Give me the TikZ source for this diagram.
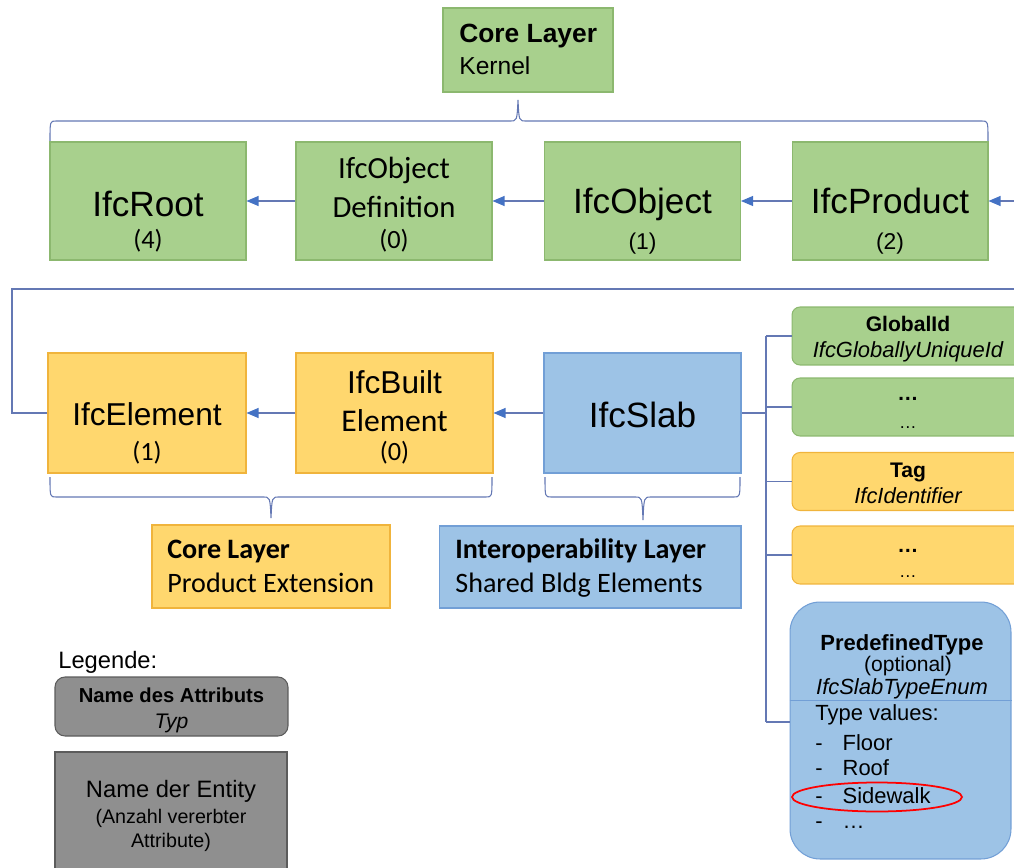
\documentclass[tikz,border=0pt]{standalone}
\usepackage{fontspec}
\setmainfont{Liberation Sans}
\newfontfamily\calfont{Carlito}
\usetikzlibrary{arrows.meta}

\definecolor{kerngreen}{HTML}{A8D08D}
\definecolor{kernline}{HTML}{8CB86F}
\definecolor{extorange}{HTML}{FFD76E}
\definecolor{extline}{HTML}{F0B43C}
\definecolor{sharedblue}{HTML}{9DC3E6}
\definecolor{sharedline}{HTML}{729FD6}
\definecolor{leggray}{HTML}{8F8F8F}
\definecolor{legline}{HTML}{5C5C5C}
\definecolor{linkcol}{HTML}{6478B4}
\definecolor{headblue}{HTML}{4472C4}

\begin{document}
\begin{tikzpicture}[
            x=0.02cm, y=-0.02cm,
            every node/.style={inner sep=0pt},
            grn/.style={draw=kernline, fill=kerngreen, line width=0.6pt},
            org/.style={draw=extline, fill=extorange, line width=0.6pt},
            blu/.style={draw=sharedline, fill=sharedblue, line width=0.6pt},
            gry/.style={draw=legline, fill=leggray, line width=0.6pt},
            entity/.style={minimum width=3.92cm, minimum height=2.36cm},
            attr/.style={rounded corners=0.16cm, minimum width=4.64cm, minimum height=1.16cm},
            link/.style={draw=linkcol, line width=0.6pt},
            inh/.style={link, -{Triangle[length=0.24cm, width=0.2cm, color=headblue]}},
            % fonts
            bigname/.style={anchor=base, font=\fontsize{20}{24}\selectfont},
            midname/.style={anchor=base, font=\fontsize{18}{22}\selectfont},
            calname/.style={anchor=base, font=\calfont\fontsize{17.5}{21}\selectfont},
            calcount/.style={anchor=base, font=\calfont\fontsize{15}{18}\selectfont},
            count/.style={anchor=base, font=\fontsize{13}{16}\selectfont},
            layerhead/.style={anchor=base west, font=\calfont\bfseries\fontsize{16}{19}\selectfont},
            layersub/.style={anchor=base west, font=\calfont\fontsize{16}{19}\selectfont},
            attrname/.style={anchor=base, font=\bfseries\fontsize{12}{14}\selectfont},
            attrtype/.style={anchor=base, font=\itshape\fontsize{12.5}{15}\selectfont},
            plain/.style={anchor=base west, font=\fontsize{12.5}{15}\selectfont},
            ]
            \clip (0,0) rectangle (1014,868);

            % core layer, kernel
            \node[grn, minimum width=3.4cm, minimum height=1.68cm] (kernel) at (528,50) {};
            \node[anchor=base west, font=\bfseries\fontsize{15}{18}\selectfont] (kernel-t) at (459,43) {Core Layer};
            \node[anchor=base west, font=\fontsize{14}{17}\selectfont] (kernel-s) at (459,75) {Kernel};
            \draw[link] (50,141) .. controls (50,121) .. (56,121) -- (510,121)
                .. controls (517,121) .. (518,100) .. controls (519,121) .. (526,121)
                -- (982,121) .. controls (988,121) .. (988,141);

            \node[grn, entity] (root) at (148,201) {};
            \node[bigname] (root-n) at (148,216) {IfcRoot};
            \node[calcount] (root-c) at (148,249) {(4)};

            \node[grn, entity] (objdef) at (394,201) {};
            \node[calname] (objdef-n) at (394,179) {IfcObject};
            \node[calname] (objdef-m) at (394,218) {Definition};
            \node[calcount] (objdef-c) at (394,249) {(0)};

            \node[grn, entity] (object) at (642.5,201) {};
            \node[bigname] (object-n) at (642.5,214) {IfcObject};
            \node[count] (object-c) at (642.5,250) {(1)};

            \node[grn, entity] (product) at (890,201) {};
            \node[bigname] (product-n) at (890,214) {IfcProduct};
            \node[count] (product-c) at (890,250) {(2)};

            \coordinate (prodin) at (1014,201);
            \coordinate (retout) at (1014,289);
            \draw[inh] (objdef) -- (root);
            \draw[inh] (object) -- (objdef);
            \draw[inh] (product) -- (object);
            \draw[inh] (prodin) -- (product);

            % product extension + shared elements
            \node[org, minimum width=3.96cm, minimum height=2.4cm] (elem) at (147,413) {};
            \node[midname] (elem-n) at (147,425) {IfcElement};
            \node[calcount] (elem-c) at (147,460) {(1)};

            \node[org, minimum width=3.94cm, minimum height=2.4cm] (built) at (394.5,413) {};
            \node[midname] (built-n) at (394.5,393) {IfcBuilt};
            \node[calname, font=\calfont\fontsize{18}{22}\selectfont] (built-m) at (394.5,431) {Element};
            \node[calcount] (built-c) at (394.5,460) {(0)};

            \node[blu, minimum width=3.94cm, minimum height=2.4cm] (slab) at (642.5,413) {};
            \node[bigname] (slab-n) at (642.5,427) {IfcSlab};

            \draw[inh] (built) -- (elem);
            \draw[inh] (slab) -- (built);
            \draw[link] (elem.west) -- (12,413) |- (retout);

            \draw[link] (50,477) .. controls (50,497) .. (56,497) -- (263,497)
                .. controls (270,497) .. (271,518) .. controls (272,497) .. (279,497)
                -- (486,497) .. controls (492,497) .. (492,477);
            \draw[link] (545,477) .. controls (545,497) .. (551,497) -- (635,497)
                .. controls (642,497) .. (643,520) .. controls (644,497) .. (651,497)
                -- (734,497) .. controls (740,497) .. (740,477);

            \node[org, minimum width=4.76cm, minimum height=1.66cm] (prodext) at (271,566.5) {};
            \node[layerhead] (prodext-t) at (167,558) {Core Layer};
            \node[layersub] (prodext-s) at (167,592) {Product Extension};

            \node[blu, minimum width=6.04cm, minimum height=1.64cm] (interop) at (590,567) {};
            \node[layerhead] (interop-t) at (455,558) {Interoperability Layer};
            \node[layersub] (interop-s) at (455,592) {Shared Bldg Elements};

            % attributes of IfcSlab
            \node[grn, attr] (gid) at (908,336) {};
            \node[attrname] (gid-n) at (908,331) {GlobalId};
            \node[attrtype] (gid-t) at (908,357) {IfcGloballyUniqueId};

            \node[grn, attr] (gmore) at (908,407) {};
            \node[attrname] (gmore-n) at (908,400) {\dots};
            \node[anchor=base, font=\fontsize{10}{12}\selectfont] (gmore-t) at (908,428) {\dots};

            \node[org, attr] (tag) at (908,481.5) {};
            \node[attrname] (tag-n) at (908,477) {Tag};
            \node[attrtype] (tag-t) at (908,503) {IfcIdentifier};

            \node[org, attr] (omore) at (908,555) {};
            \node[attrname] (omore-n) at (908,552) {\dots};
            \node[anchor=base, font=\fontsize{10}{12}\selectfont] (omore-t) at (908,577) {\dots};

            \node[blu, rounded corners=0.6cm, minimum width=4.42cm, minimum height=5.14cm] (ptype) at (900.5,730.5) {};
            \draw[sharedline, line width=0.5pt] (ptype.west |- 0,700) -- (ptype.east |- 0,700);
            \node[anchor=base, font=\bfseries\fontsize{12.5}{15}\selectfont] (ptype-n) at (902,650) {PredefinedType};
            \node[anchor=base, font=\fontsize{12}{14}\selectfont] (ptype-o) at (908,671) {(optional)};
            \node[attrtype] (ptype-t) at (902,694) {IfcSlabTypeEnum};
            \node[plain] (ptype-v) at (815,720) {Type values:};
            \node[plain] (ptype-a) at (815,750) {-\hspace{0.4cm}Floor};
            \node[plain] (ptype-b) at (815,775) {-\hspace{0.4cm}Roof};
            \node[plain] (ptype-c) at (815,803) {-\hspace{0.4cm}Sidewalk};
            \node[plain] (ptype-d) at (815,828) {-\hspace{0.4cm}\dots};
            \draw[red, line width=1pt] (877,797) ellipse [x radius=1.7cm, y radius=0.29cm];

            \coordinate (hub1) at (766,336);
            \coordinate (hub2) at (766,407);
            \coordinate (hub3) at (766,481.5);
            \coordinate (hub4) at (766,555);
            \coordinate (hub5) at (766,722);
            \draw[link] (slab.east) -- (766,413);
            \draw[link] (hub1) -- (hub5);
            \draw[link] (hub1) -- (hub1 -| gid.west);
            \draw[link] (hub2) -- (hub2 -| gmore.west);
            \draw[link] (hub3) -- (hub3 -| tag.west);
            \draw[link] (hub4) -- (hub4 -| omore.west);
            \draw[link] (hub5) -- (hub5 -| ptype.west);

            % legend
            \node[anchor=base west, font=\fontsize{13.5}{16}\selectfont] (legend) at (58,668) {Legende:};
            \node[gry, rounded corners=0.2cm, minimum width=4.66cm, minimum height=1.18cm] (legattr) at (171.5,706.5) {};
            \node[anchor=base, font=\bfseries\fontsize{11.5}{14}\selectfont] (legattr-n) at (171.5,702) {Name des Attributs};
            \node[attrtype, font=\itshape\fontsize{12}{14}\selectfont] (legattr-t) at (171.5,728) {Typ};
            \node[gry, minimum width=4.64cm, minimum height=2.56cm] (legent) at (171,816) {};
            \node[anchor=base, font=\fontsize{13.5}{16}\selectfont] (legent-n) at (171,797) {Name der Entity};
            \node[anchor=base, font=\fontsize{11.2}{14}\selectfont] (legent-a) at (171,823) {(Anzahl vererbter};
            \node[anchor=base, font=\fontsize{11.2}{14}\selectfont] (legent-b) at (171,847) {Attribute)};
        \end{tikzpicture}
\end{document}
